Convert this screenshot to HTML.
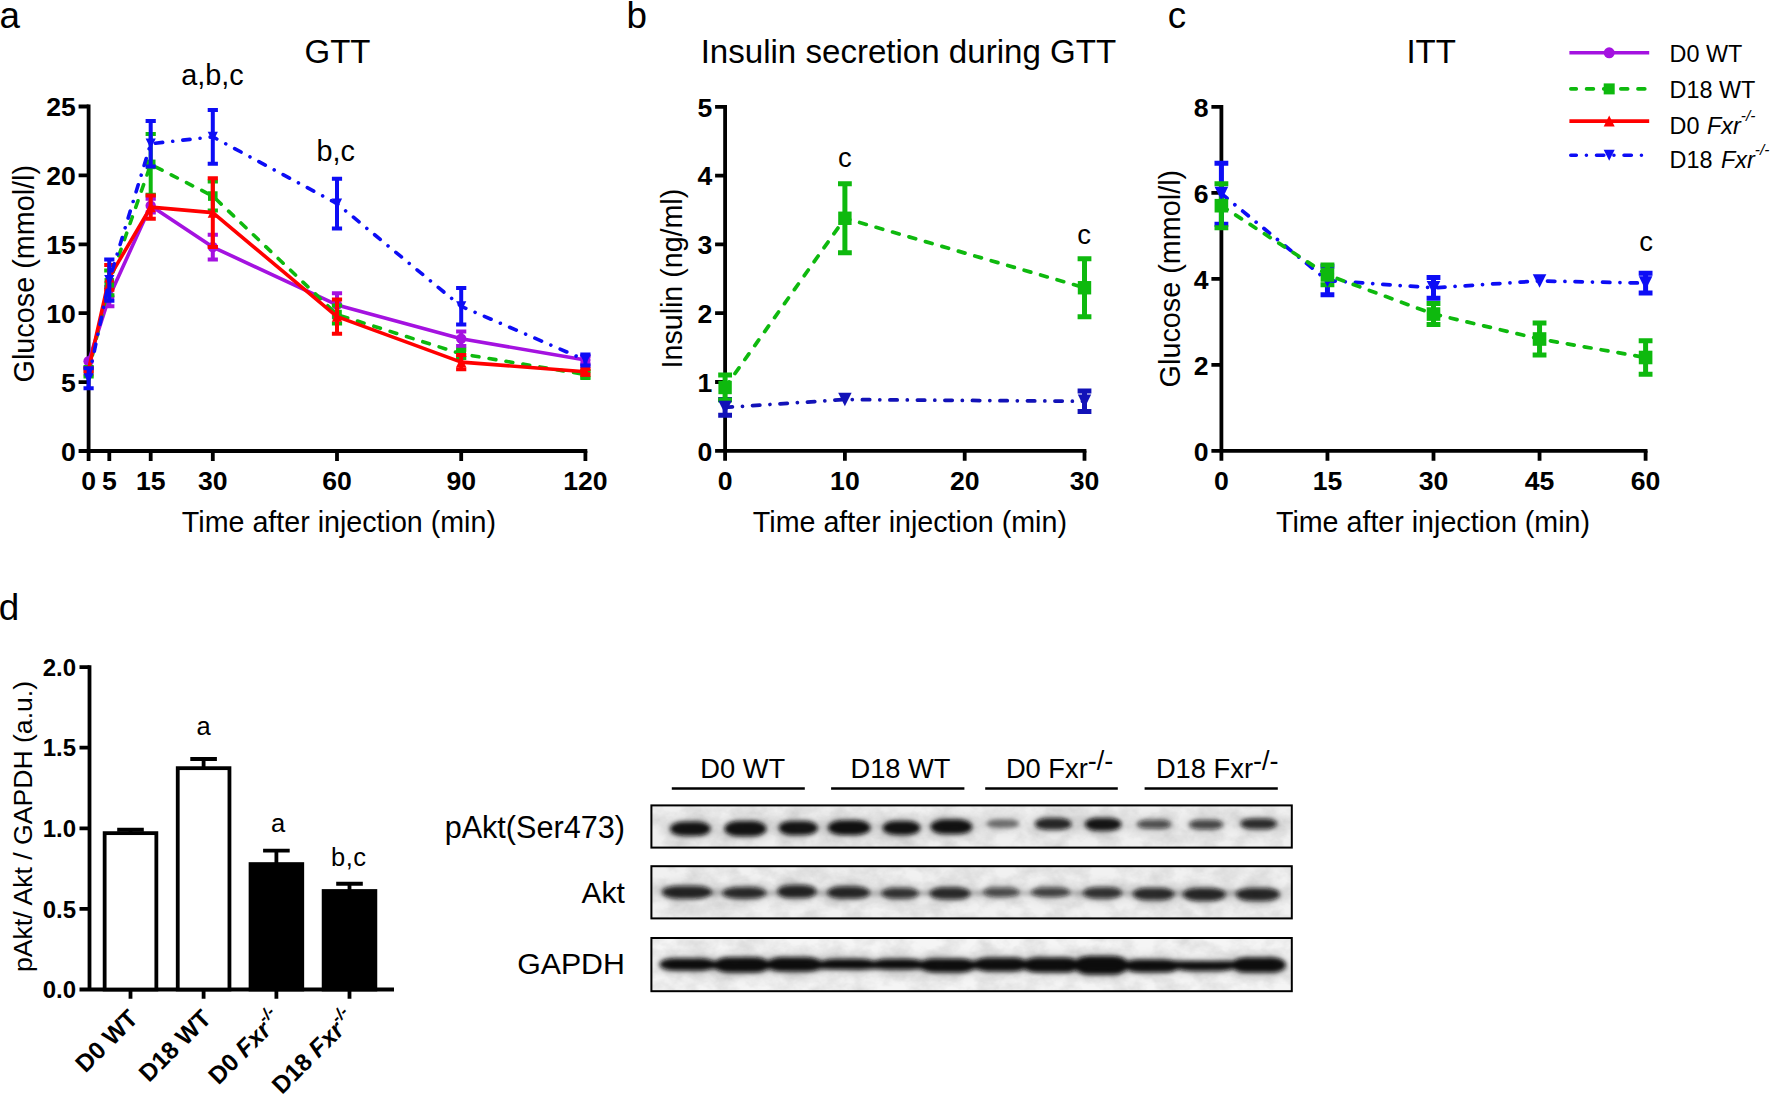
<!DOCTYPE html>
<html lang="en"><head><meta charset="utf-8"><title>Figure</title>
<style>html,body{margin:0;padding:0;background:#fff}svg{display:block}</style></head><body>
<svg width="1770" height="1095" viewBox="0 0 1770 1095" font-family='"Liberation Sans", sans-serif' fill="#000">
<rect width="1770" height="1095" fill="#fff"/>
<text x="-0.6" y="28.2" font-size="36.8" text-anchor="start" font-weight="normal" >a</text>
<text x="626.6" y="28.2" font-size="36.8" text-anchor="start" font-weight="normal" >b</text>
<text x="1167.8" y="28.2" font-size="36.8" text-anchor="start" font-weight="normal" >c</text>
<text x="-1.2" y="620.3" font-size="36.8" text-anchor="start" font-weight="normal" >d</text>
<path d="M88.6 104.6V461M78.6 451H587.3" stroke="#000" stroke-width="3.8" fill="none"/>
<path d="M109.3 451V461M150.7 451V461M212.8 451V461M337 451V461M461.2 451V461M585.4 451V461M88.6 382.1H78.6M88.6 313.2H78.6M88.6 244.3H78.6M88.6 175.4H78.6M88.6 106.5H78.6" stroke="#000" stroke-width="3.8" fill="none"/>
<text x="88.6" y="489.7" font-size="26.6" text-anchor="middle" font-weight="bold" >0</text>
<text x="109.3" y="489.7" font-size="26.6" text-anchor="middle" font-weight="bold" >5</text>
<text x="150.7" y="489.7" font-size="26.6" text-anchor="middle" font-weight="bold" >15</text>
<text x="212.8" y="489.7" font-size="26.6" text-anchor="middle" font-weight="bold" >30</text>
<text x="337" y="489.7" font-size="26.6" text-anchor="middle" font-weight="bold" >60</text>
<text x="461.2" y="489.7" font-size="26.6" text-anchor="middle" font-weight="bold" >90</text>
<text x="585.4" y="489.7" font-size="26.6" text-anchor="middle" font-weight="bold" >120</text>
<text x="75.8" y="460.8" font-size="26.6" text-anchor="end" font-weight="bold" >0</text>
<text x="75.8" y="391.9" font-size="26.6" text-anchor="end" font-weight="bold" >5</text>
<text x="75.8" y="323" font-size="26.6" text-anchor="end" font-weight="bold" >10</text>
<text x="75.8" y="254.1" font-size="26.6" text-anchor="end" font-weight="bold" >15</text>
<text x="75.8" y="185.2" font-size="26.6" text-anchor="end" font-weight="bold" >20</text>
<text x="75.8" y="116.3" font-size="26.6" text-anchor="end" font-weight="bold" >25</text>
<text x="337.5" y="62.6" font-size="33" text-anchor="middle" font-weight="normal" >GTT</text>
<text x="338.9" y="532" font-size="28.65" text-anchor="middle" font-weight="normal" >Time after injection (min)</text>
<text transform="translate(34.3,273.7) rotate(-90)" font-size="28.8" text-anchor="middle" >Glucose (mmol/l)</text>
<text x="212.5" y="84.6" font-size="28.8" text-anchor="middle" font-weight="normal" >a,b,c</text>
<text x="335.8" y="161" font-size="28.8" text-anchor="middle" font-weight="normal" >b,c</text>
<path d="M109.3 287.02V306.31M104.2 287.02H114.4M104.2 306.31H114.4M150.7 198.83V212.61M145.6 198.83H155.8M145.6 212.61H155.8M212.8 234.65V259.46M207.7 234.65H217.9M207.7 259.46H217.9M337 293.22V316.64M331.9 293.22H342.1M331.9 316.64H342.1M461.2 331.39V346M456.1 331.39H466.3M456.1 346H466.3M585.4 355.92V364.19M580.3 355.92H590.5M580.3 364.19H590.5" stroke="#a412e0" stroke-width="4.0" fill="none"/>
<path d="M88.6 361.29L109.3 296.66L150.7 205.72L212.8 247.06L337 304.93L461.2 338.69L585.4 360.05" stroke="#a412e0" stroke-width="3.6" fill="none" stroke-linecap="round" stroke-linejoin="round"/>
<circle cx="88.6" cy="361.29" r="5.2" fill="#a412e0"/>
<circle cx="109.3" cy="296.66" r="5.2" fill="#a412e0"/>
<circle cx="150.7" cy="205.72" r="5.2" fill="#a412e0"/>
<circle cx="212.8" cy="247.06" r="5.2" fill="#a412e0"/>
<circle cx="337" cy="304.93" r="5.2" fill="#a412e0"/>
<circle cx="461.2" cy="338.69" r="5.2" fill="#a412e0"/>
<circle cx="585.4" cy="360.05" r="5.2" fill="#a412e0"/>
<path d="M88.6 366.94V376.59M83.5 366.94H93.7M83.5 376.59H93.7M109.3 270.48V295.29M104.2 270.48H114.4M104.2 295.29H114.4M150.7 134.06V194.69M145.6 134.06H155.8M145.6 194.69H155.8M212.8 181.6V210.54M207.7 181.6H217.9M207.7 210.54H217.9M337 305.62V323.54M331.9 305.62H342.1M331.9 323.54H342.1M461.2 349.72V357.99M456.1 349.72H466.3M456.1 357.99H466.3M585.4 371.08V377.97M580.3 371.08H590.5M580.3 377.97H590.5" stroke="#0eb90e" stroke-width="4.0" fill="none"/>
<path d="M88.6 371.76L109.3 282.88L150.7 164.38L212.8 196.07L337 314.58L461.2 353.85L585.4 374.52" stroke="#0eb90e" stroke-width="3.6" fill="none" stroke-linecap="round" stroke-linejoin="round" stroke-dasharray="6.9 10.23"/>
<rect x="83.8" y="366.96" width="9.6" height="9.6" fill="#0eb90e"/>
<rect x="104.5" y="278.08" width="9.6" height="9.6" fill="#0eb90e"/>
<rect x="145.9" y="159.58" width="9.6" height="9.6" fill="#0eb90e"/>
<rect x="208" y="191.27" width="9.6" height="9.6" fill="#0eb90e"/>
<rect x="332.2" y="309.78" width="9.6" height="9.6" fill="#0eb90e"/>
<rect x="456.4" y="349.05" width="9.6" height="9.6" fill="#0eb90e"/>
<rect x="580.6" y="369.72" width="9.6" height="9.6" fill="#0eb90e"/>
<path d="M88.6 368.32V371.08M83.5 368.32H93.7M83.5 371.08H93.7M109.3 264.97V289.77M104.2 264.97H114.4M104.2 289.77H114.4M150.7 195.38V218.81M145.6 195.38H155.8M145.6 218.81H155.8M212.8 178.16V247.06M207.7 178.16H217.9M207.7 247.06H217.9M337 299.42V333.87M331.9 299.42H342.1M331.9 333.87H342.1M461.2 354.95V369.28M456.1 354.95H466.3M456.1 369.28H466.3M585.4 369.01V374.52M580.3 369.01H590.5M580.3 374.52H590.5" stroke="#ff0000" stroke-width="4.0" fill="none"/>
<path d="M88.6 369.7L109.3 277.37L150.7 207.09L212.8 212.61L337 316.64L461.2 362.12L585.4 371.76" stroke="#ff0000" stroke-width="3.6" fill="none" stroke-linecap="round" stroke-linejoin="round"/>
<path d="M83.5 374.8H93.7L88.6 364.6Z" fill="#ff0000"/>
<path d="M104.2 282.47H114.4L109.3 272.27Z" fill="#ff0000"/>
<path d="M145.6 212.19H155.8L150.7 201.99Z" fill="#ff0000"/>
<path d="M207.7 217.71H217.9L212.8 207.51Z" fill="#ff0000"/>
<path d="M331.9 321.75H342.1L337 311.54Z" fill="#ff0000"/>
<path d="M456.1 367.22H466.3L461.2 357.02Z" fill="#ff0000"/>
<path d="M580.3 376.87H590.5L585.4 366.66Z" fill="#ff0000"/>
<path d="M88.6 368.18V388.3M83.5 368.18H93.7M83.5 388.3H93.7M109.3 259.46V300.8M104.2 259.46H114.4M104.2 300.8H114.4M150.7 120.97V166.44M145.6 120.97H155.8M145.6 166.44H155.8M212.8 109.94V163.69M207.7 109.94H217.9M207.7 163.69H217.9M337 178.85V228.45M331.9 178.85H342.1M331.9 228.45H342.1M461.2 288.12V324.5M456.1 288.12H466.3M456.1 324.5H466.3M585.4 354.54V365.56M580.3 354.54H590.5M580.3 365.56H590.5" stroke="#0d0df5" stroke-width="4.0" fill="none"/>
<path d="M88.6 378.24L109.3 280.13L150.7 143.71L212.8 136.82L337 203.65L461.2 306.31L585.4 360.05" stroke="#0d0df5" stroke-width="3.6" fill="none" stroke-linecap="round" stroke-linejoin="round" stroke-dasharray="7.3 10.1 0.01 10.1"/>
<path d="M83.5 373.14H93.7L88.6 383.34Z" fill="#0d0df5"/>
<path d="M104.2 275.03H114.4L109.3 285.23Z" fill="#0d0df5"/>
<path d="M145.6 138.61H155.8L150.7 148.81Z" fill="#0d0df5"/>
<path d="M207.7 131.72H217.9L212.8 141.92Z" fill="#0d0df5"/>
<path d="M331.9 198.55H342.1L337 208.75Z" fill="#0d0df5"/>
<path d="M456.1 301.21H466.3L461.2 311.41Z" fill="#0d0df5"/>
<path d="M580.3 354.95H590.5L585.4 365.15Z" fill="#0d0df5"/>
<path d="M725.1 104.9V460.8M715.1 450.8H1086.4" stroke="#000" stroke-width="3.8" fill="none"/>
<path d="M844.9 450.8V460.8M964.7 450.8V460.8M1084.5 450.8V460.8M725.1 382H715.1M725.1 313.2H715.1M725.1 244.4H715.1M725.1 175.6H715.1M725.1 106.8H715.1" stroke="#000" stroke-width="3.8" fill="none"/>
<text x="725.1" y="489.7" font-size="26.6" text-anchor="middle" font-weight="bold" >0</text>
<text x="844.9" y="489.7" font-size="26.6" text-anchor="middle" font-weight="bold" >10</text>
<text x="964.7" y="489.7" font-size="26.6" text-anchor="middle" font-weight="bold" >20</text>
<text x="1084.5" y="489.7" font-size="26.6" text-anchor="middle" font-weight="bold" >30</text>
<text x="712.3" y="460.6" font-size="26.6" text-anchor="end" font-weight="bold" >0</text>
<text x="712.3" y="391.8" font-size="26.6" text-anchor="end" font-weight="bold" >1</text>
<text x="712.3" y="323" font-size="26.6" text-anchor="end" font-weight="bold" >2</text>
<text x="712.3" y="254.2" font-size="26.6" text-anchor="end" font-weight="bold" >3</text>
<text x="712.3" y="185.4" font-size="26.6" text-anchor="end" font-weight="bold" >4</text>
<text x="712.3" y="116.6" font-size="26.6" text-anchor="end" font-weight="bold" >5</text>
<text x="908.4" y="62.6" font-size="33.1" text-anchor="middle" font-weight="normal" >Insulin secretion during GTT</text>
<text x="909.9" y="532" font-size="28.65" text-anchor="middle" font-weight="normal" >Time after injection (min)</text>
<text transform="translate(682.4,278.6) rotate(-90)" font-size="28.6" text-anchor="middle" >Insulin (ng/ml)</text>
<text x="844.8" y="167" font-size="27.5" text-anchor="middle" font-weight="normal" >c</text>
<text x="1084" y="243.8" font-size="27.5" text-anchor="middle" font-weight="normal" >c</text>
<path d="M725.1 399.54V415.37M718.2 399.54H732M718.2 415.37H732M1084.5 390.94V411.58M1077.6 390.94H1091.4M1077.6 411.58H1091.4" stroke="#1212b8" stroke-width="5" fill="none"/>
<path d="M725.1 375.12V399.89M718.2 375.12H732M718.2 399.89H732M844.9 183.86V252.66M838 183.86H851.8M838 252.66H851.8M1084.5 258.85V316.64M1077.6 258.85H1091.4M1077.6 316.64H1091.4" stroke="#0eb90e" stroke-width="5" fill="none"/>
<path d="M725.1 407.46L844.9 399.54L1084.5 401.26" stroke="#1212b8" stroke-width="3.75" fill="none" stroke-linecap="round" stroke-linejoin="round" stroke-dasharray="7.3 10.1 0.01 10.1"/>
<path d="M718.4 400.76H731.8L725.1 414.16Z" fill="#1212b8"/>
<path d="M838.2 392.84H851.6L844.9 406.24Z" fill="#1212b8"/>
<path d="M1077.8 394.56H1091.2L1084.5 407.96Z" fill="#1212b8"/>
<path d="M725.1 387.5L844.9 218.26L1084.5 287.74" stroke="#0eb90e" stroke-width="3.75" fill="none" stroke-linecap="round" stroke-linejoin="round" stroke-dasharray="6.9 10.23"/>
<rect x="718.4" y="380.8" width="13.4" height="13.4" fill="#0eb90e"/>
<rect x="838.2" y="211.56" width="13.4" height="13.4" fill="#0eb90e"/>
<rect x="1077.8" y="281.04" width="13.4" height="13.4" fill="#0eb90e"/>
<path d="M1221.4 104.9V460.8M1211.4 450.8H1647.5" stroke="#000" stroke-width="3.8" fill="none"/>
<path d="M1327.45 450.8V460.8M1433.5 450.8V460.8M1539.55 450.8V460.8M1645.6 450.8V460.8M1221.4 364.8H1211.4M1221.4 278.8H1211.4M1221.4 192.8H1211.4M1221.4 106.8H1211.4" stroke="#000" stroke-width="3.8" fill="none"/>
<text x="1221.4" y="489.7" font-size="26.6" text-anchor="middle" font-weight="bold" >0</text>
<text x="1327.45" y="489.7" font-size="26.6" text-anchor="middle" font-weight="bold" >15</text>
<text x="1433.5" y="489.7" font-size="26.6" text-anchor="middle" font-weight="bold" >30</text>
<text x="1539.55" y="489.7" font-size="26.6" text-anchor="middle" font-weight="bold" >45</text>
<text x="1645.6" y="489.7" font-size="26.6" text-anchor="middle" font-weight="bold" >60</text>
<text x="1208.6" y="460.6" font-size="26.6" text-anchor="end" font-weight="bold" >0</text>
<text x="1208.6" y="374.6" font-size="26.6" text-anchor="end" font-weight="bold" >2</text>
<text x="1208.6" y="288.6" font-size="26.6" text-anchor="end" font-weight="bold" >4</text>
<text x="1208.6" y="202.6" font-size="26.6" text-anchor="end" font-weight="bold" >6</text>
<text x="1208.6" y="116.6" font-size="26.6" text-anchor="end" font-weight="bold" >8</text>
<text x="1431.2" y="62.6" font-size="33" text-anchor="middle" font-weight="normal" >ITT</text>
<text x="1433" y="532" font-size="28.65" text-anchor="middle" font-weight="normal" >Time after injection (min)</text>
<text transform="translate(1179.7,278.6) rotate(-90)" font-size="28.8" text-anchor="middle" >Glucose (mmol/l)</text>
<text x="1646" y="250.7" font-size="27.5" text-anchor="middle" font-weight="normal" >c</text>
<path d="M1221.4 163.13V224.19M1214.5 163.13H1228.3M1214.5 224.19H1228.3M1327.45 266.33V294.71M1320.55 266.33H1334.35M1320.55 294.71H1334.35M1433.5 277.51V298.15M1426.6 277.51H1440.4M1426.6 298.15H1440.4M1645.6 273.21V292.99M1638.7 273.21H1652.5M1638.7 292.99H1652.5" stroke="#0d0df5" stroke-width="5" fill="none"/>
<path d="M1221.4 183.77V227.63M1214.5 183.77H1228.3M1214.5 227.63H1228.3M1327.45 265.04V284.82M1320.55 265.04H1334.35M1320.55 284.82H1334.35M1433.5 303.52V324.6M1426.6 303.52H1440.4M1426.6 324.6H1440.4M1539.55 322.88V355.12M1532.65 322.88H1546.45M1532.65 355.12H1546.45M1645.6 340.72V374.26M1638.7 340.72H1652.5M1638.7 374.26H1652.5" stroke="#0eb90e" stroke-width="5" fill="none"/>
<path d="M1221.4 193.66L1327.45 280.52L1433.5 287.83L1539.55 280.95L1645.6 283.1" stroke="#0d0df5" stroke-width="3.75" fill="none" stroke-linecap="round" stroke-linejoin="round" stroke-dasharray="7.3 10.1 0.01 10.1"/>
<path d="M1214.6 186.86H1228.2L1221.4 200.46Z" fill="#0d0df5"/>
<path d="M1320.65 273.72H1334.25L1327.45 287.32Z" fill="#0d0df5"/>
<path d="M1426.7 281.03H1440.3L1433.5 294.63Z" fill="#0d0df5"/>
<path d="M1532.75 274.15H1546.35L1539.55 287.75Z" fill="#0d0df5"/>
<path d="M1638.8 276.3H1652.4L1645.6 289.9Z" fill="#0d0df5"/>
<path d="M1221.4 205.7L1327.45 274.93L1433.5 314.06L1539.55 339L1645.6 357.49" stroke="#0eb90e" stroke-width="3.75" fill="none" stroke-linecap="round" stroke-linejoin="round" stroke-dasharray="6.9 10.23"/>
<rect x="1214.6" y="198.9" width="13.6" height="13.6" fill="#0eb90e"/>
<rect x="1320.65" y="268.13" width="13.6" height="13.6" fill="#0eb90e"/>
<rect x="1426.7" y="307.26" width="13.6" height="13.6" fill="#0eb90e"/>
<rect x="1532.75" y="332.2" width="13.6" height="13.6" fill="#0eb90e"/>
<rect x="1638.8" y="350.69" width="13.6" height="13.6" fill="#0eb90e"/>
<path d="M1569.4 52.8H1649.2" stroke="#a412e0" stroke-width="3.6" fill="none"/>
<circle cx="1609.2" cy="52.8" r="5.5" fill="#a412e0"/>
<text x="1669.6" y="62" font-size="23.4" text-anchor="start" font-weight="normal" >D0 WT</text>
<path d="M1570.8 88.9H1647.4" stroke="#0eb90e" stroke-width="3.6" fill="none" stroke-linecap="round" stroke-dasharray="6.9 10.23" stroke-dashoffset="1.4"/>
<rect x="1603.7" y="83.4" width="11" height="11" fill="#0eb90e"/>
<text x="1669.6" y="97.6" font-size="23.4" text-anchor="start" font-weight="normal" >D18 WT</text>
<path d="M1569.4 121.1H1649.2" stroke="#ff0000" stroke-width="3.6" fill="none"/>
<path d="M1603.7 126.6H1614.7L1609.2 115.6Z" fill="#ff0000"/>
<text x="1669.6" y="133.7" font-size="23.4" text-anchor="start" font-weight="normal" >D0 <tspan font-style="italic" dx="1">Fxr</tspan><tspan font-style="italic" font-size="15.5" dy="-12.5">-/-</tspan></text>
<path d="M1570.8 155.2H1647.4" stroke="#0d0df5" stroke-width="3.6" fill="none" stroke-linecap="round" stroke-dasharray="7.3 10.1 0.01 10.1" stroke-dashoffset="1.8"/>
<path d="M1603.7 149.7H1614.7L1609.2 160.7Z" fill="#0d0df5"/>
<text x="1669.6" y="167.8" font-size="23.4" text-anchor="start" font-weight="normal" >D18 <tspan font-style="italic" dx="2">Fxr</tspan><tspan font-style="italic" font-size="15.5" dy="-12.5">-/-</tspan></text>
<path d="M89.5 665.2V991.4M79.5 989.5H394" stroke="#000" stroke-width="3.8" fill="none"/>
<path d="M89.5 908.9H79.5M89.5 828.3H79.5M89.5 747.7H79.5M89.5 667.1H79.5M130.5 989.5V998.8M203.6 989.5V998.8M276.4 989.5V998.8M349.5 989.5V998.8" stroke="#000" stroke-width="3.8" fill="none"/>
<text x="76" y="998.1" font-size="24" text-anchor="end" font-weight="bold" >0.0</text>
<text x="76" y="917.5" font-size="24" text-anchor="end" font-weight="bold" >0.5</text>
<text x="76" y="836.9" font-size="24" text-anchor="end" font-weight="bold" >1.0</text>
<text x="76" y="756.3" font-size="24" text-anchor="end" font-weight="bold" >1.5</text>
<text x="76" y="675.7" font-size="24" text-anchor="end" font-weight="bold" >2.0</text>
<text transform="translate(31.7,826.5) rotate(-90)" font-size="26.6" text-anchor="middle" >pAkt/ Akt / GAPDH (a.u.)</text>
<path d="M130.5 833.14V829.75M117.2 829.75H143.8" stroke="#000" stroke-width="3.8" fill="none"/>
<rect x="104.65" y="833.14" width="51.7" height="156.36" fill="#fff" stroke="#000" stroke-width="3.8"/>
<path d="M203.6 768.17V758.98M190.3 758.98H216.9" stroke="#000" stroke-width="3.8" fill="none"/>
<rect x="177.75" y="768.17" width="51.7" height="221.33" fill="#fff" stroke="#000" stroke-width="3.8"/>
<path d="M276.4 864.09V850.55M263.1 850.55H289.7" stroke="#000" stroke-width="3.8" fill="none"/>
<rect x="250.55" y="864.09" width="51.7" height="125.41" fill="#000" stroke="#000" stroke-width="3.8"/>
<path d="M349.5 891.01V883.75M336.2 883.75H362.8" stroke="#000" stroke-width="3.8" fill="none"/>
<rect x="323.65" y="891.01" width="51.7" height="98.49" fill="#000" stroke="#000" stroke-width="3.8"/>
<text x="203.7" y="735.1" font-size="25.5" text-anchor="middle" font-weight="normal" >a</text>
<text x="278" y="832" font-size="25.5" text-anchor="middle" font-weight="normal" >a</text>
<text x="348.8" y="866.3" font-size="25.5" text-anchor="middle" font-weight="normal" letter-spacing="0.6">b,c</text>
<text transform="translate(139.4,1019.8) rotate(-45)" font-size="24.5" font-weight="bold" text-anchor="end">D0 WT</text>
<text transform="translate(212.5,1019.8) rotate(-45)" font-size="24.5" font-weight="bold" text-anchor="end">D18 WT</text>
<text transform="translate(283.5,1020.7) rotate(-45)" font-size="24.5" font-weight="bold" text-anchor="end">D0 <tspan font-style="italic">Fxr</tspan><tspan font-style="italic" font-size="16.5" dy="-11">-/-</tspan></text>
<text transform="translate(356.6,1020.7) rotate(-45)" font-size="24.5" font-weight="bold" text-anchor="end">D18 <tspan font-style="italic">Fxr</tspan><tspan font-style="italic" font-size="16.5" dy="-11">-/-</tspan></text>
<defs><filter id="bl" x="-30%" y="-150%" width="160%" height="400%"><feGaussianBlur stdDeviation="2.3 1.9"/></filter><filter id="halo" x="-40%" y="-250%" width="180%" height="600%"><feGaussianBlur stdDeviation="5.5 4.2"/></filter><filter id="grain" x="0" y="0" width="100%" height="100%"><feTurbulence type="fractalNoise" baseFrequency="0.045 0.06" numOctaves="4" seed="7" result="n"/><feColorMatrix in="n" type="matrix" values="0 0 0 0 0  0 0 0 0 0  0 0 0 0 0  1.5 0 0 0 -0.5"/></filter><linearGradient id="bg1" x1="0" y1="0" x2="0" y2="1"><stop offset="0" stop-color="#f1f1f1"/><stop offset="1" stop-color="#ededed"/></linearGradient><clipPath id="c1"><rect x="651.4" y="805.4" width="640.4" height="42.2"/></clipPath><clipPath id="c2"><rect x="651.4" y="866.2" width="640.4" height="52.2"/></clipPath><clipPath id="c3"><rect x="651.4" y="938" width="640.4" height="53.2"/></clipPath></defs>
<rect x="651.4" y="805.4" width="640.4" height="42.2" fill="#f0f0f0"/>
<rect x="651.4" y="866.2" width="640.4" height="52.2" fill="#f1f1f1"/>
<rect x="651.4" y="938.0" width="640.4" height="53.2" fill="#f5f5f5"/>
<g clip-path="url(#c1)">
<g filter="url(#halo)">
<ellipse cx="690.3" cy="828.7" rx="25.2" ry="11" fill="#000" fill-opacity="0.16"/>
<ellipse cx="745.4" cy="828.7" rx="25.95" ry="11.6" fill="#000" fill-opacity="0.16"/>
<ellipse cx="798.3" cy="828" rx="24.5" ry="11" fill="#000" fill-opacity="0.15"/>
<ellipse cx="849.3" cy="827.6" rx="26.3" ry="11.35" fill="#000" fill-opacity="0.16"/>
<ellipse cx="901.5" cy="827.9" rx="23.75" ry="11" fill="#000" fill-opacity="0.16"/>
<ellipse cx="951.4" cy="826.8" rx="25.95" ry="11.25" fill="#000" fill-opacity="0.16"/>
<ellipse cx="1002.9" cy="823.8" rx="21.5" ry="8.3" fill="#000" fill-opacity="0.08"/>
<ellipse cx="1053.2" cy="823.9" rx="23.35" ry="9.8" fill="#000" fill-opacity="0.14"/>
<ellipse cx="1103.2" cy="824.3" rx="23.25" ry="10.4" fill="#000" fill-opacity="0.15"/>
<ellipse cx="1153.9" cy="824.3" rx="22.25" ry="8.5" fill="#000" fill-opacity="0.11"/>
<ellipse cx="1206.1" cy="824.6" rx="22.25" ry="8.8" fill="#000" fill-opacity="0.12"/>
<ellipse cx="1258.6" cy="823.7" rx="23.35" ry="9.2" fill="#000" fill-opacity="0.13"/>
</g><g filter="url(#bl)">

<rect x="670.1" y="821.7" width="40.4" height="14" rx="13.74" ry="7" fill="#0b0b0b" fill-opacity="0.97"/>
<rect x="724.45" y="821.1" width="41.9" height="15.2" rx="14.25" ry="7.6" fill="#0b0b0b" fill-opacity="0.97"/>
<rect x="778.8" y="821" width="39" height="14" rx="13.26" ry="7" fill="#0b0b0b" fill-opacity="0.96"/>
<rect x="828" y="820.25" width="42.6" height="14.7" rx="14.48" ry="7.35" fill="#0b0b0b" fill-opacity="0.98"/>
<rect x="882.75" y="820.9" width="37.5" height="14" rx="12.75" ry="7" fill="#0b0b0b" fill-opacity="0.97"/>
<rect x="930.45" y="819.55" width="41.9" height="14.5" rx="14.25" ry="7.25" fill="#0b0b0b" fill-opacity="0.97"/>
<rect x="986.4" y="819.5" width="33" height="8.6" rx="11.22" ry="4.3" fill="#0b0b0b" fill-opacity="0.5"/>
<rect x="1034.85" y="818.1" width="36.7" height="11.6" rx="12.48" ry="5.8" fill="#0b0b0b" fill-opacity="0.88"/>
<rect x="1084.95" y="817.9" width="36.5" height="12.8" rx="12.41" ry="6.4" fill="#0b0b0b" fill-opacity="0.96"/>
<rect x="1136.65" y="819.8" width="34.5" height="9" rx="11.73" ry="4.5" fill="#0b0b0b" fill-opacity="0.68"/>
<rect x="1188.85" y="819.8" width="34.5" height="9.6" rx="11.73" ry="4.8" fill="#0b0b0b" fill-opacity="0.72"/>
<rect x="1240.25" y="818.5" width="36.7" height="10.4" rx="12.48" ry="5.2" fill="#0b0b0b" fill-opacity="0.84"/>
</g></g>
<g clip-path="url(#c2)">
<g filter="url(#halo)">
<ellipse cx="687" cy="892.2" rx="30" ry="10.5" fill="#000" fill-opacity="0.14"/>
<ellipse cx="744.3" cy="892.9" rx="27" ry="9.9" fill="#000" fill-opacity="0.13"/>
<ellipse cx="796.8" cy="891.5" rx="24.5" ry="10.6" fill="#000" fill-opacity="0.14"/>
<ellipse cx="848.6" cy="892.6" rx="26.3" ry="10.25" fill="#000" fill-opacity="0.14"/>
<ellipse cx="900" cy="893.3" rx="23.75" ry="9.5" fill="#000" fill-opacity="0.12"/>
<ellipse cx="950" cy="893.4" rx="25.2" ry="10.15" fill="#000" fill-opacity="0.13"/>
<ellipse cx="1001.4" cy="892.2" rx="23" ry="9" fill="#000" fill-opacity="0.1"/>
<ellipse cx="1050.6" cy="892.2" rx="24.5" ry="9" fill="#000" fill-opacity="0.11"/>
<ellipse cx="1102.5" cy="892.9" rx="24.5" ry="9.9" fill="#000" fill-opacity="0.12"/>
<ellipse cx="1153.6" cy="894" rx="25.5" ry="10.25" fill="#000" fill-opacity="0.13"/>
<ellipse cx="1204.2" cy="894.4" rx="26.3" ry="10.5" fill="#000" fill-opacity="0.14"/>
<ellipse cx="1257.9" cy="894.4" rx="27" ry="10.5" fill="#000" fill-opacity="0.14"/>
</g><g filter="url(#bl)">
<rect x="672" y="890.6" width="600" height="5" fill="#000" fill-opacity="0.2"/>
<rect x="662" y="885.7" width="50" height="13" rx="17" ry="6.5" fill="#0b0b0b" fill-opacity="0.874"/>
<rect x="722.3" y="887" width="44" height="11.8" rx="14.96" ry="5.9" fill="#0b0b0b" fill-opacity="0.836"/>
<rect x="777.3" y="884.9" width="39" height="13.2" rx="13.26" ry="6.6" fill="#0b0b0b" fill-opacity="0.874"/>
<rect x="827.3" y="886.35" width="42.6" height="12.5" rx="14.48" ry="6.25" fill="#0b0b0b" fill-opacity="0.855"/>
<rect x="881.25" y="887.8" width="37.5" height="11" rx="12.75" ry="5.5" fill="#0b0b0b" fill-opacity="0.7789999999999999"/>
<rect x="929.8" y="887.25" width="40.4" height="12.3" rx="13.74" ry="6.15" fill="#0b0b0b" fill-opacity="0.836"/>
<rect x="983.4" y="887.2" width="36" height="10" rx="12.24" ry="5" fill="#0b0b0b" fill-opacity="0.627"/>
<rect x="1031.1" y="887.2" width="39" height="10" rx="13.26" ry="5" fill="#0b0b0b" fill-opacity="0.6839999999999999"/>
<rect x="1083" y="887" width="39" height="11.8" rx="13.26" ry="5.9" fill="#0b0b0b" fill-opacity="0.7789999999999999"/>
<rect x="1133.1" y="887.75" width="41" height="12.5" rx="13.94" ry="6.25" fill="#0b0b0b" fill-opacity="0.836"/>
<rect x="1182.9" y="887.9" width="42.6" height="13" rx="14.48" ry="6.5" fill="#0b0b0b" fill-opacity="0.855"/>
<rect x="1235.9" y="887.9" width="44" height="13" rx="14.96" ry="6.5" fill="#0b0b0b" fill-opacity="0.855"/>
</g></g>
<g clip-path="url(#c3)">
<g filter="url(#halo)">
<ellipse cx="687.5" cy="964.4" rx="33" ry="10.1" fill="#000" fill-opacity="0.16"/>
<ellipse cx="741.8" cy="964.9" rx="33" ry="11.6" fill="#000" fill-opacity="0.16"/>
<ellipse cx="794.6" cy="964.4" rx="33" ry="11.1" fill="#000" fill-opacity="0.16"/>
<ellipse cx="848" cy="964.1" rx="33" ry="9.4" fill="#000" fill-opacity="0.15"/>
<ellipse cx="897.9" cy="964.1" rx="30" ry="9.4" fill="#000" fill-opacity="0.15"/>
<ellipse cx="947.3" cy="965.4" rx="33" ry="11" fill="#000" fill-opacity="0.16"/>
<ellipse cx="1000.5" cy="964.4" rx="32" ry="11" fill="#000" fill-opacity="0.15"/>
<ellipse cx="1051.2" cy="964.9" rx="33.5" ry="11.5" fill="#000" fill-opacity="0.16"/>
<ellipse cx="1101.2" cy="965.2" rx="32" ry="13.3" fill="#000" fill-opacity="0.16"/>
<ellipse cx="1152" cy="965.9" rx="32.5" ry="10.5" fill="#000" fill-opacity="0.15"/>
<ellipse cx="1204.9" cy="966.3" rx="34" ry="9" fill="#000" fill-opacity="0.14"/>
<ellipse cx="1258.7" cy="964.9" rx="32" ry="11.5" fill="#000" fill-opacity="0.16"/>
</g><g filter="url(#bl)">
<rect x="668" y="960.9" width="606" height="8" rx="4" fill="#0b0b0b" fill-opacity="0.9"/>
<rect x="659.5" y="958.3" width="56" height="12.2" rx="15.12" ry="6.1" fill="#0b0b0b" fill-opacity="0.97"/>
<rect x="713.8" y="957.3" width="56" height="15.2" rx="15.12" ry="7.6" fill="#0b0b0b" fill-opacity="0.98"/>
<rect x="766.6" y="957.3" width="56" height="14.2" rx="15.12" ry="7.1" fill="#0b0b0b" fill-opacity="0.98"/>
<rect x="820" y="958.7" width="56" height="10.8" rx="15.12" ry="5.4" fill="#0b0b0b" fill-opacity="0.94"/>
<rect x="872.9" y="958.7" width="50" height="10.8" rx="13.5" ry="5.4" fill="#0b0b0b" fill-opacity="0.94"/>
<rect x="919.3" y="958.4" width="56" height="14" rx="15.12" ry="7" fill="#0b0b0b" fill-opacity="0.97"/>
<rect x="973.5" y="957.4" width="54" height="14" rx="14.58" ry="7" fill="#0b0b0b" fill-opacity="0.95"/>
<rect x="1022.7" y="957.4" width="57" height="15" rx="15.39" ry="7.5" fill="#0b0b0b" fill-opacity="0.97"/>
<rect x="1074.2" y="955.9" width="54" height="18.6" rx="14.58" ry="9.3" fill="#0b0b0b" fill-opacity="0.99"/>
<rect x="1124.5" y="959.4" width="55" height="13" rx="14.85" ry="6.5" fill="#0b0b0b" fill-opacity="0.95"/>
<rect x="1175.9" y="961.3" width="58" height="10" rx="15.66" ry="5" fill="#0b0b0b" fill-opacity="0.86"/>
<rect x="1231.7" y="957.4" width="54" height="15" rx="14.58" ry="7.5" fill="#0b0b0b" fill-opacity="0.98"/>
</g></g>
<rect x="651.4" y="805.4" width="640.4" height="42.2" filter="url(#grain)" opacity="0.13"/>
<rect x="651.4" y="866.2" width="640.4" height="52.2" filter="url(#grain)" opacity="0.13"/>
<rect x="651.4" y="938.0" width="640.4" height="53.2" filter="url(#grain)" opacity="0.13"/>
<rect x="651.4" y="805.4" width="640.4" height="42.2" fill="none" stroke="#000" stroke-width="2"/>
<rect x="651.4" y="866.2" width="640.4" height="52.2" fill="none" stroke="#000" stroke-width="2"/>
<rect x="651.4" y="938.0" width="640.4" height="53.2" fill="none" stroke="#000" stroke-width="2"/>
<path d="M671.8 788.5H804.8" stroke="#000" stroke-width="2.3"/>
<text x="742.8" y="778.4" font-size="27.3" text-anchor="middle" font-weight="normal" >D0 WT</text>
<path d="M831.1 788.5H964.4" stroke="#000" stroke-width="2.3"/>
<text x="900.5" y="778.4" font-size="27.3" text-anchor="middle" font-weight="normal" >D18 WT</text>
<path d="M985.2 788.5H1117.8" stroke="#000" stroke-width="2.3"/>
<text x="1059.6" y="778.4" font-size="27.3" text-anchor="middle" font-weight="normal" >D0 Fxr<tspan font-size="27" dy="-8">-/-</tspan></text>
<path d="M1144.6 788.5H1277.8" stroke="#000" stroke-width="2.3"/>
<text x="1217.2" y="778.4" font-size="27.3" text-anchor="middle" font-weight="normal" >D18 Fxr<tspan font-size="27" dy="-8">-/-</tspan></text>
<text x="624.9" y="838" font-size="30.6" text-anchor="end" font-weight="normal" >pAkt(Ser473)</text>
<text x="624.9" y="903" font-size="30" text-anchor="end" font-weight="normal" >Akt</text>
<text x="624.9" y="974.2" font-size="30.3" text-anchor="end" font-weight="normal" >GAPDH</text>
</svg></body></html>
